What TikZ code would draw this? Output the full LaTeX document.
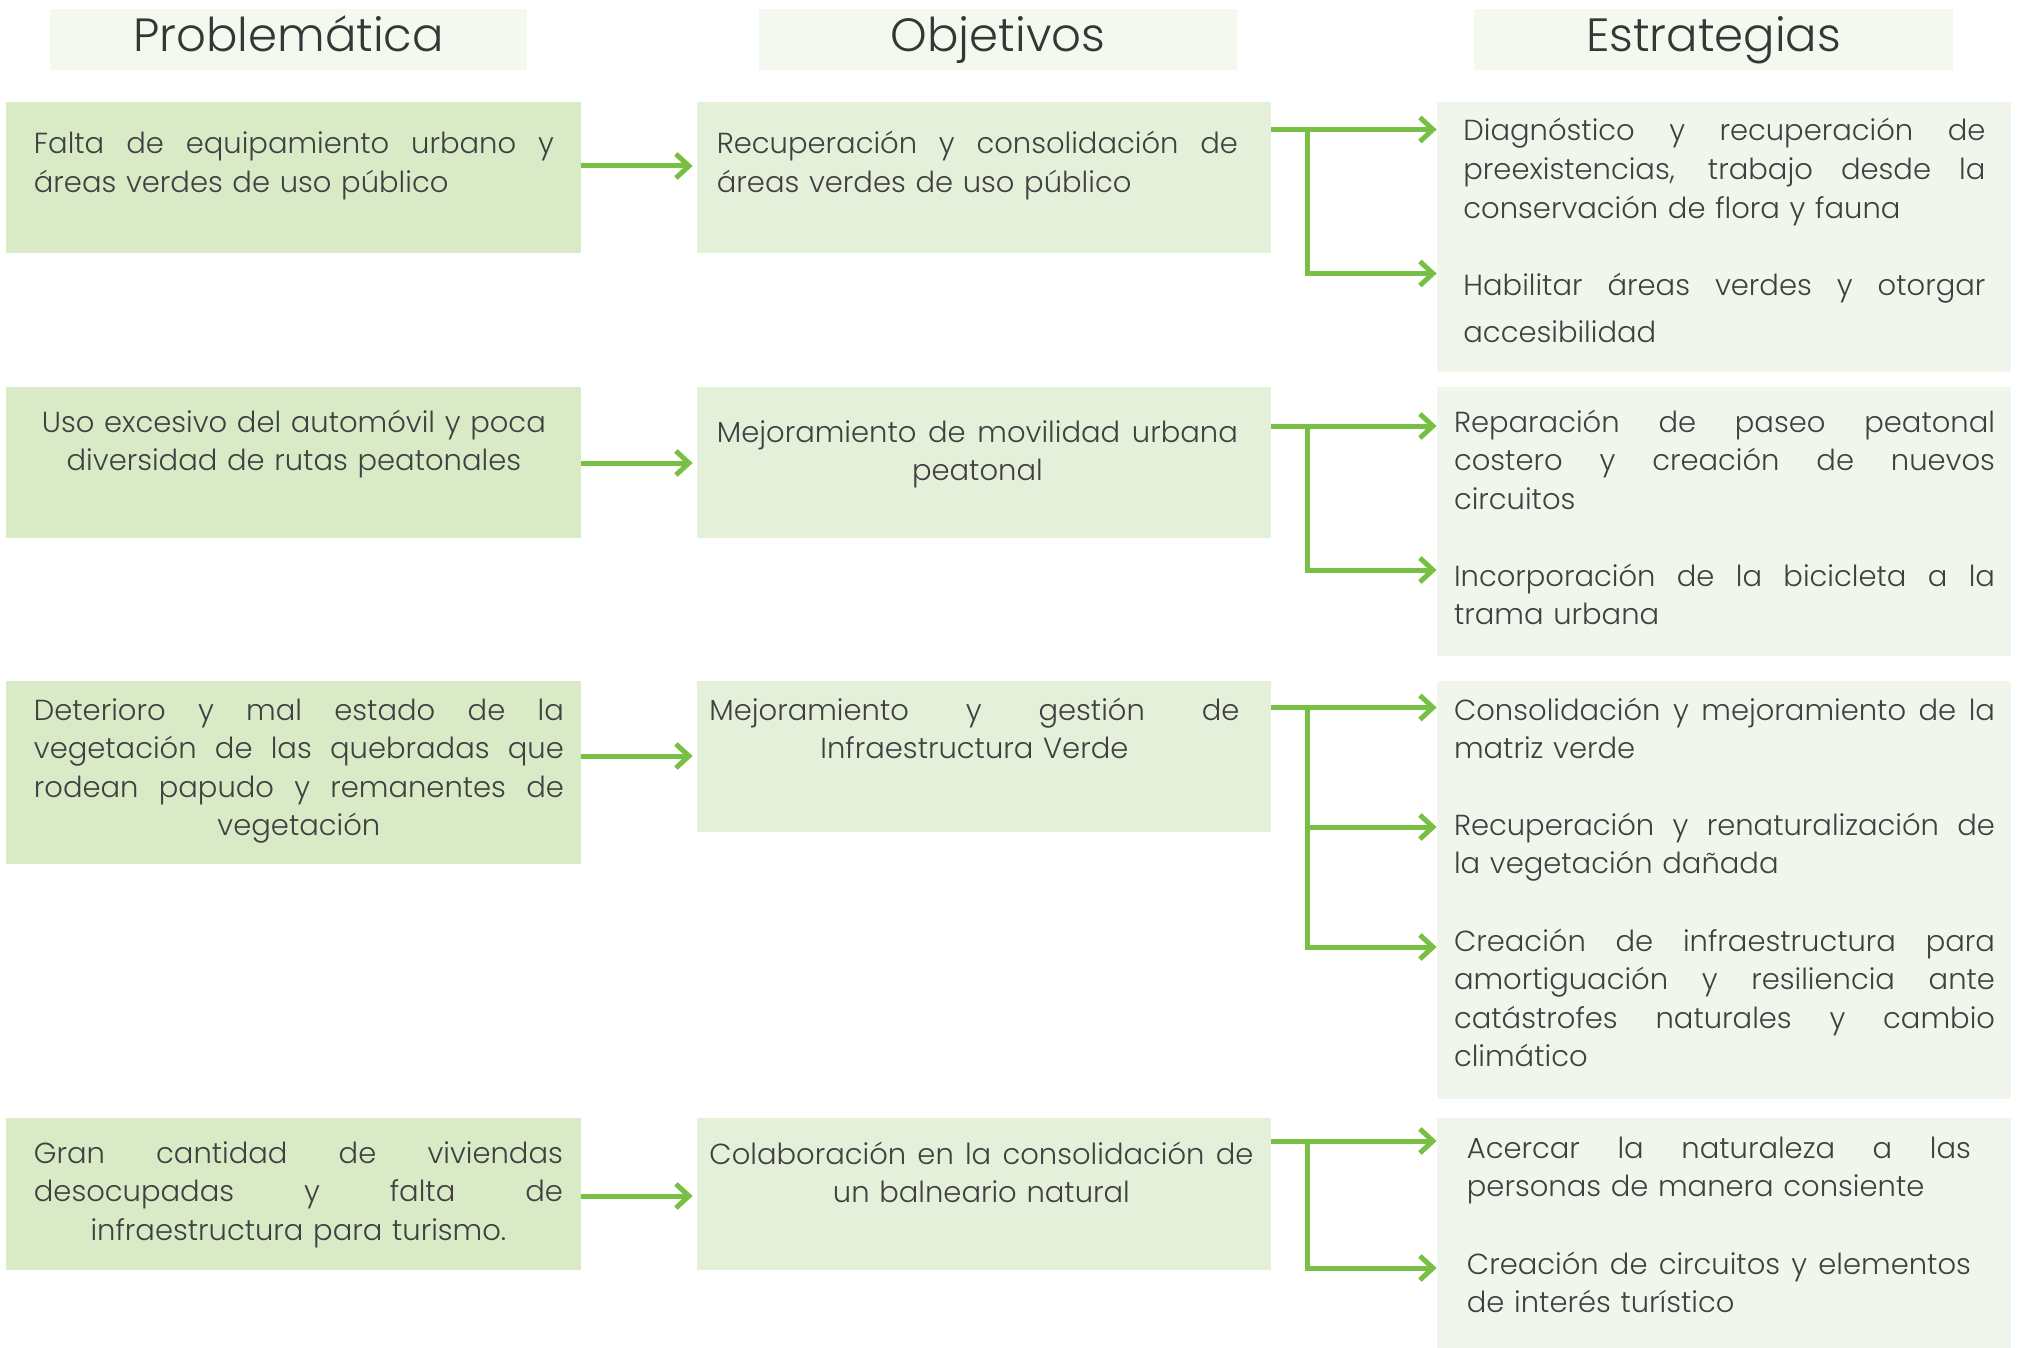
\documentclass[tikz,border=0pt]{standalone}
\usepackage{fontspec}
\setmainfont{Poppins}[UprightFont={* Light}]
\usetikzlibrary{arrows.meta,fit}
\definecolor{hdrc}{HTML}{F4F9F0}
\definecolor{cone}{HTML}{D8EAC6}
\definecolor{ctwo}{HTML}{E4F0D9}
\definecolor{cthree}{HTML}{F1F6EC}
\definecolor{agreen}{HTML}{78C043}
\definecolor{txtc}{HTML}{404040}
\newcommand{\lnJ}[1]{\makebox[\linewidth][s]{\spaceskip=0.28em plus 1fil\relax #1}}
\newcommand{\lnC}[1]{\makebox[\linewidth][c]{#1}}
\newcommand{\lnL}[1]{\makebox[\linewidth][l]{#1}}
\tikzset{
  hdrbox/.style={fill=hdrc, draw=none, inner sep=0pt},
  boxone/.style={fill=cone, draw=none, inner sep=0pt},
  boxtwo/.style={fill=ctwo, draw=none, inner sep=0pt},
  boxthree/.style={fill=cthree, draw=none, inner sep=0pt},
  hdrtxt/.style={text=txtc!85!black, font=\fontsize{23.3}{28}\selectfont, inner sep=0pt, anchor=base},
  body/.style={text=txtc, font=\fontsize{14.5}{19.3}\selectfont, inner sep=0pt, anchor=base west, align=left, text width=#1},
  conn/.style={draw=agreen, line width=2.5pt, line join=miter},
  arr/.style={conn, -{Straight Barb[length=6.5pt,width=12pt]}},
}
\begin{document}
\begin{tikzpicture}[x=0.5pt,y=-0.5pt]
\useasboundingbox (0,0) rectangle (2017,1348);
\fill[white] (0,0) rectangle (2017,1348);

% headers
\node[hdrbox, fit={(50,9) (527,70)}] (h1) {};
\node[hdrbox, fit={(759,9) (1237,70)}] (h2) {};
\node[hdrbox, fit={(1474,9) (1953,70)}] (h3) {};
\node[hdrtxt] (h1t) at (288.5,52) {Problemática};
\node[hdrtxt] (h2t) at (998,52) {Objetivos};
\node[hdrtxt] (h3t) at (1713.5,52) {Estrategias};

% column 1
\node[boxone, fit={(6,102) (581,253)}] (p1) {};
\node[boxone, fit={(6,387) (581,538)}] (p2) {};
\node[boxone, fit={(6,681) (581,864)}] (p3) {};
\node[boxone, fit={(6,1118) (581,1270)}] (p4) {};
% column 2
\node[boxtwo, fit={(697,102) (1271,253)}] (o1) {};
\node[boxtwo, fit={(697,387) (1271,538)}] (o2) {};
\node[boxtwo, fit={(697,681) (1271,832)}] (o3) {};
\node[boxtwo, fit={(697,1118) (1271,1270)}] (o4) {};
% column 3
\node[boxthree, fit={(1437,102) (2011,372)}] (s1) {};
\node[boxthree, fit={(1437,387) (2011,656)}] (s2) {};
\node[boxthree, fit={(1437,681) (2011,1099)}] (s3) {};
\node[boxthree, fit={(1437,1118) (2011,1348)}] (s4) {};

% texts column 1
\node[body=260pt] (p1t) at (33.5,154) {\lnJ{Falta de equipamiento urbano y}\\\lnL{áreas verdes de uso público}};
\node[body=260pt] (p2t) at (33.5,432) {\lnC{Uso excesivo del automóvil y poca}\\\lnC{diversidad de rutas peatonales}};
\node[body=265pt] (p3t) at (33.5,720) {\lnJ{Deterioro y mal estado de la}\\\lnJ{vegetación de las quebradas que}\\\lnJ{rodean papudo y remanentes de}\\\lnC{vegetación}};
\node[body=264.5pt] (p4t) at (33.5,1163) {\lnJ{Gran cantidad de viviendas}\\\lnJ{desocupadas y falta de}\\\lnC{infraestructura para turismo.}};

% texts column 2
\node[body=260.5pt] (o1t) at (716.5,154) {\lnJ{Recuperación y consolidación de}\\\lnL{áreas verdes de uso público}};
\node[body=260.5pt] (o2t) at (716.5,442) {\lnJ{Mejoramiento de movilidad urbana}\\\lnC{peatonal}};
\node[body=265pt] (o3t) at (709,720) {\lnJ{Mejoramiento y gestión de}\\\lnC{Infraestructura Verde}};
\node[body=272pt] (o4t) at (709,1164) {\lnJ{Colaboración en la consolidación de}\\\lnC{un balneario natural}};

% texts column 3
\node[body=261pt] (s11) at (1463,141) {\lnJ{Diagnóstico y recuperación de}\\\lnJ{preexistencias, trabajo desde la}\\\lnL{conservación de flora y fauna}};
\node[body=261pt] (s12) at (1463,295) {\lnJ{Habilitar áreas verdes y otorgar}\\[4.5pt]\lnL{accesibilidad}};
\node[body=270.5pt] (s21) at (1453.6,432) {\lnJ{Reparación de paseo peatonal}\\\lnJ{costero y creación de nuevos}\\\lnL{circuitos}};
\node[body=270.5pt] (s22) at (1453.6,586) {\lnJ{Incorporación de la bicicleta a la}\\\lnL{trama urbana}};
\node[body=270.5pt] (s31) at (1453.6,720) {\lnJ{Consolidación y mejoramiento de la}\\\lnL{matriz verde}};
\node[body=270.5pt] (s32) at (1453.6,835) {\lnJ{Recuperación y renaturalización de}\\\lnL{la vegetación dañada}};
\node[body=270.5pt] (s33) at (1453.6,951) {\lnJ{Creación de infraestructura para}\\\lnJ{amortiguación y resiliencia ante}\\\lnJ{catástrofes naturales y cambio}\\\lnL{climático}};
\node[body=252pt] (s41) at (1466.5,1158) {\lnJ{Acercar la naturaleza a las}\\\lnL{personas de manera consiente}};
\node[body=252pt] (s42) at (1466.5,1274) {\lnJ{Creación de circuitos y elementos}\\\lnL{de interés turístico}};

% connector levels
\coordinate (r1) at (0,166);
\coordinate (r2) at (0,463);
\coordinate (r3) at (0,756);
\coordinate (r4) at (0,1196);
\coordinate (jx) at (1307,0);
\coordinate (a11) at (0,129.5);
\coordinate (a12) at (0,273.5);
\coordinate (a21) at (0,426);
\coordinate (a22) at (0,570);
\coordinate (a31) at (0,707.5);
\coordinate (a32) at (0,827);
\coordinate (a33) at (0,947);
\coordinate (a41) at (0,1141);
\coordinate (a42) at (0,1268);

% arrows column 1 -> column 2
\draw[arr] (p1.east |- r1) -- ([xshift=-2pt]o1.west |- r1);
\draw[arr] (p2.east |- r2) -- ([xshift=-2pt]o2.west |- r2);
\draw[arr] (p3.east |- r3) -- ([xshift=-2pt]o3.west |- r3);
\draw[arr] (p4.east |- r4) -- ([xshift=-2pt]o4.west |- r4);

% branches column 2 -> column 3
\draw[arr] (o1.east |- a11) -- (s1.west |- a11);
\draw[conn] (jx |- a11) -- (jx |- a12);
\draw[arr] ([xshift=-1.25pt]jx |- a12) -- (s1.west |- a12);

\draw[arr] (o2.east |- a21) -- (s2.west |- a21);
\draw[conn] (jx |- a21) -- (jx |- a22);
\draw[arr] ([xshift=-1.25pt]jx |- a22) -- (s2.west |- a22);

\draw[arr] (o3.east |- a31) -- (s3.west |- a31);
\draw[conn] (jx |- a31) -- (jx |- a33);
\draw[arr] (jx |- a32) -- (s3.west |- a32);
\draw[arr] ([xshift=-1.25pt]jx |- a33) -- (s3.west |- a33);

\draw[arr] (o4.east |- a41) -- (s4.west |- a41);
\draw[conn] (jx |- a41) -- (jx |- a42);
\draw[arr] ([xshift=-1.25pt]jx |- a42) -- (s4.west |- a42);
\end{tikzpicture}
\end{document}
